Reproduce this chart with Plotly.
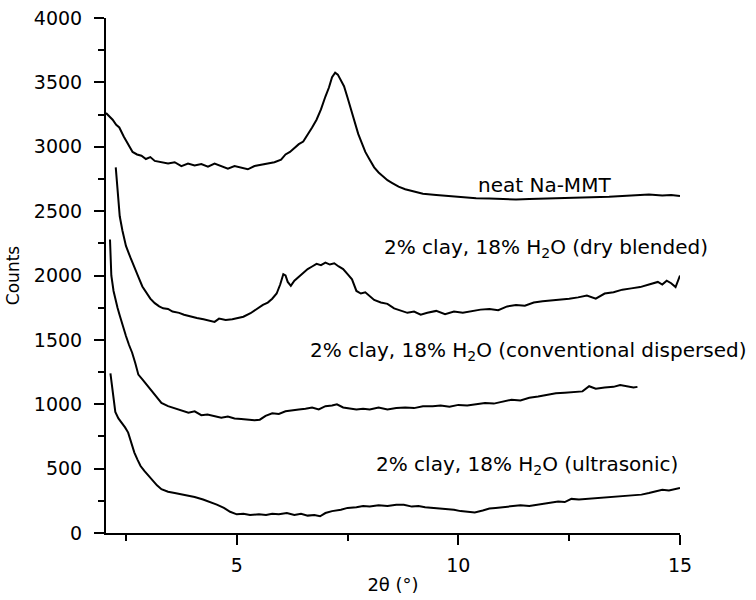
import plotly.graph_objects as go

# ---------------- data ----------------
neat_x = [2.05, 2.12, 2.2, 2.28, 2.35, 2.45, 2.55, 2.65, 2.75, 2.85, 2.95, 3.05, 3.15, 3.3, 3.45, 3.6, 3.75, 3.9,
          4.05, 4.2, 4.35, 4.5, 4.65, 4.8, 4.95, 5.1, 5.25, 5.4, 5.55, 5.7, 5.85, 6.0, 6.1, 6.2, 6.3, 6.4, 6.5, 6.6,
          6.7, 6.8, 6.9, 7.0, 7.08, 7.15, 7.22, 7.28, 7.35, 7.42, 7.5, 7.58, 7.66, 7.74, 7.82, 7.9, 8.0, 8.1, 8.2,
          8.3, 8.4, 8.5, 8.65, 8.8, 9.0, 9.2, 9.5, 9.8, 10.1, 10.4, 10.7, 11.0, 11.3, 11.6, 11.9, 12.2, 12.5, 12.8,
          13.1, 13.4, 13.7, 14.0, 14.3, 14.6, 14.8, 15.0]
neat_y = [3262, 3240, 3210, 3170, 3150, 3080, 3020, 2960, 2940, 2930, 2905, 2920, 2890, 2880, 2870, 2880, 2850, 2870,
          2855, 2865, 2845, 2870, 2850, 2830, 2850, 2835, 2825, 2850, 2860, 2870, 2880, 2900, 2940, 2960, 2990, 3020,
          3040, 3090, 3150, 3210, 3290, 3390, 3460, 3540, 3575, 3560, 3520, 3470, 3380, 3280, 3180, 3100, 3030, 2960,
          2900, 2840, 2800, 2770, 2740, 2720, 2690, 2670, 2650, 2635, 2625, 2615, 2605, 2600, 2598, 2592, 2590, 2595,
          2598, 2596, 2600, 2605, 2608, 2612, 2618, 2625, 2630, 2622, 2625, 2618]

dry_x = [2.27, 2.32, 2.36, 2.42, 2.5, 2.6, 2.69, 2.78, 2.87, 2.95, 3.05, 3.15, 3.25, 3.34, 3.45, 3.55, 3.7, 3.81,
         3.95, 4.1, 4.25, 4.4, 4.5, 4.6, 4.75, 4.9, 5.03, 5.15, 5.31, 5.45, 5.59, 5.7, 5.8, 5.9, 5.98, 6.05, 6.1,
         6.15, 6.22, 6.3, 6.4, 6.5, 6.6, 6.7, 6.8, 6.9, 7.0, 7.1, 7.2, 7.3, 7.4, 7.5, 7.6, 7.7, 7.8, 7.9, 8.0, 8.1,
         8.25, 8.4, 8.55, 8.7, 8.85, 9.0, 9.15, 9.3, 9.5, 9.7, 9.9, 10.1, 10.3, 10.5, 10.7, 10.9, 11.1, 11.3, 11.5,
         11.7, 11.9, 12.1, 12.3, 12.5, 12.7, 12.9, 13.1, 13.3, 13.5, 13.7, 13.9, 14.1, 14.3, 14.5, 14.6, 14.7, 14.8,
         14.9, 15.0]
dry_y = [2840, 2650, 2460, 2350, 2230, 2140, 2070, 1990, 1915, 1870, 1820, 1785, 1760, 1745, 1740, 1720, 1710, 1695,
         1680, 1670, 1660, 1650, 1640, 1665, 1655, 1660, 1668, 1680, 1707, 1740, 1772, 1790, 1820, 1860, 1930, 2010,
         2000, 1950, 1920, 1960, 1990, 2020, 2050, 2070, 2090, 2080, 2100, 2085, 2095, 2070, 2050, 2010, 1970, 1880,
         1860, 1870, 1840, 1810, 1790, 1780, 1745, 1730, 1710, 1720, 1695, 1710, 1725, 1700, 1720, 1710, 1725, 1735,
         1740, 1730, 1760, 1770, 1765, 1790, 1800, 1805, 1810, 1820, 1830, 1845, 1820, 1860, 1870, 1890, 1900, 1910,
         1930, 1950, 1930, 1960, 1940, 1910, 2000]

conv_x = [2.14, 2.17, 2.22, 2.26, 2.31, 2.36, 2.43, 2.5, 2.57, 2.64, 2.71, 2.78, 2.88, 3.0, 3.1, 3.2, 3.3, 3.45,
          3.58, 3.75, 3.91, 4.05, 4.2, 4.34, 4.5, 4.65, 4.8, 4.95, 5.1, 5.25, 5.4, 5.52, 5.65, 5.8, 5.95, 6.1, 6.25,
          6.4, 6.55, 6.7, 6.85, 7.0, 7.15, 7.26, 7.4, 7.55, 7.7, 7.85, 8.0, 8.2, 8.4, 8.6, 8.8, 9.0, 9.2, 9.42, 9.6,
          9.8, 10.0, 10.2, 10.4, 10.6, 10.8, 11.0, 11.2, 11.4, 11.6, 11.8, 12.0, 12.2, 12.4, 12.6, 12.8, 12.95, 13.1,
          13.3, 13.5, 13.65, 13.8, 13.95, 14.04]
conv_y = [2280, 2000, 1880, 1810, 1750, 1690, 1600, 1530, 1460, 1400, 1320, 1230, 1190, 1140, 1100, 1050, 1010, 985,
          970, 950, 935, 945, 915, 920, 910, 895, 905, 890, 885, 880, 875, 880, 910, 930, 925, 945, 955, 960, 965, 975,
          960, 985, 990, 1000, 975, 970, 960, 965, 960, 975, 960, 970, 975, 970, 985, 985, 990, 980, 995, 990, 1000,
          1010, 1005, 1020, 1035, 1030, 1050, 1060, 1075, 1085, 1090, 1095, 1100, 1140, 1120, 1130, 1135, 1150, 1140,
          1130, 1135]

ultra_x = [2.15, 2.2, 2.26, 2.33, 2.41, 2.48, 2.55, 2.62, 2.69, 2.76, 2.83, 2.92, 3.02, 3.12, 3.2, 3.3, 3.45, 3.6,
           3.77, 3.9, 4.05, 4.24, 4.4, 4.55, 4.71, 4.85, 5.0, 5.15, 5.3, 5.5, 5.66, 5.8, 5.95, 6.13, 6.3, 6.45, 6.6,
           6.75, 6.88, 7.0, 7.15, 7.35, 7.5, 7.7, 7.85, 8.0, 8.2, 8.4, 8.6, 8.77, 8.95, 9.1, 9.25, 9.42, 9.6, 9.75,
           9.9, 10.05, 10.2, 10.37, 10.55, 10.7, 10.84, 11.0, 11.2, 11.4, 11.6, 11.78, 11.95, 12.1, 12.25, 12.4,
           12.55, 12.72, 12.9, 13.1, 13.3, 13.5, 13.66, 13.85, 14.0, 14.13, 14.3, 14.45, 14.6, 14.75, 14.9, 15.0]
ultra_y = [1240, 1080, 940, 890, 855, 820, 780, 700, 625, 570, 520, 480, 440, 400, 370, 340, 320, 310, 300, 290, 280,
           260, 240, 220, 195, 165, 145, 150, 140, 145, 140, 150, 145, 155, 140, 150, 135, 140, 130, 155, 170, 180,
           195, 200, 210, 205, 215, 210, 220, 220, 205, 210, 200, 195, 190, 180, 180, 170, 165, 160, 175, 190, 195,
           200, 205, 215, 210, 220, 230, 235, 245, 240, 265, 260, 265, 270, 275, 280, 285, 290, 295, 298, 310, 320,
           335, 330, 345, 350]

labels = ["neat Na-MMT",
          "2% clay, 18% H<sub>2</sub>O (dry blended)",
          "2% clay, 18% H<sub>2</sub>O (conventional dispersed)",
          "2% clay, 18% H<sub>2</sub>O (ultrasonic)"]
label_x = [10.4, 8.28, 6.6, 8.1]
label_y = [2703, 2214, 1414, 528]

# ---------------- figure ----------------
FONT = "DejaVu Sans, Liberation Sans, Arial, sans-serif"
fig = go.Figure()
for xs, ys in [(neat_x, neat_y), (dry_x, dry_y), (conv_x, conv_y), (ultra_x, ultra_y)]:
    fig.add_trace(go.Scatter(x=xs, y=ys, mode="lines",
                             line=dict(color="black", width=2), showlegend=False))

for t, lx, ly in zip(labels, label_x, label_y):
    fig.add_annotation(x=lx, y=ly, xref="x", yref="y", text=t, showarrow=False,
                       xanchor="left", yanchor="middle",
                       font=dict(family=FONT, size=20, color="black"))

fig.update_layout(
    width=756, height=600,
    margin=dict(l=106, r=76, t=18, b=67),
    paper_bgcolor="white", plot_bgcolor="white",
    font=dict(family=FONT, size=19, color="black"),
    xaxis=dict(range=[2.05, 15], tick0=0, dtick=5, ticks="outside", ticklen=10, tickwidth=2,
               tickcolor="black", showline=True, linewidth=2, linecolor="black",
               showgrid=False, zeroline=False, automargin=False,
               minor=dict(dtick=2.5, tick0=0, ticks="outside", ticklen=6, tickwidth=2, tickcolor="black"),
               title=dict(text="2θ (°)", font=dict(size=18), standoff=4),
               tickfont=dict(size=19), ticklabelstandoff=4),
    yaxis=dict(range=[0, 4000], tick0=0, dtick=500, ticks="outside", ticklen=10, tickwidth=2,
               tickcolor="black", showline=True, linewidth=2, linecolor="black",
               showgrid=False, zeroline=False, automargin=False,
               minor=dict(dtick=250, tick0=0, ticks="outside", ticklen=6, tickwidth=2, tickcolor="black"),
               title=dict(text="Counts", font=dict(size=17), standoff=10),
               tickfont=dict(size=19), ticklabelstandoff=8),
)

fig.write_html("out.html")
